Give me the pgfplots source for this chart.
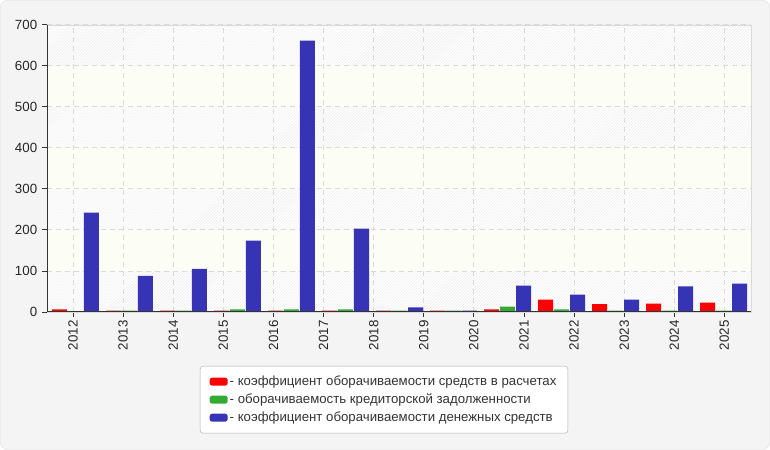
\documentclass[border=0pt]{standalone}
\usepackage{pgfplots}
\pgfplotsset{compat=1.18}
\usepackage{fontspec}
\setmainfont{Liberation Sans}
\usetikzlibrary{patterns}
\definecolor{cred}{RGB}{255,0,0}
\definecolor{cgreen}{RGB}{51,170,51}
\definecolor{cblue}{RGB}{54,52,180}
\definecolor{bgout}{RGB}{244,244,244}
\definecolor{cream}{RGB}{252,253,245}
\definecolor{gridc}{RGB}{218,218,218}
\definecolor{axc}{RGB}{51,51,51}
\definecolor{frame}{RGB}{222,222,222}
\definecolor{legframe}{RGB}{170,170,170}
\pgfdeclarelayer{farback}
\pgfplotsset{layers/mylayers/.define layer set={farback,axis background,axis grid,axis ticks,axis lines,axis tick labels,pre main,main,axis descriptions,axis foreground}{}}
\begin{document}
\begin{tikzpicture}
\begin{axis}[
  set layers=mylayers,
  at={(47.5pt,138pt)}, anchor=south west, scale only axis,
  width=703pt, height=287pt,
  xmin=-0.5204, xmax=12.502, ymin=0, ymax=700,
  axis line style={draw=gridc},
  xtick={-0.0426,0.8848,1.8122,2.7396,3.6670,4.5945,5.5219,6.4493,7.3767,8.3041,9.2315,10.1589,11.0863,12.0137},
  xticklabels={2012,2013,2014,2015,2016,2017,2018,2019,2020,2021,2022,2023,2024,2025},
  ytick={0,100,200,300,400,500,600,700},
  xtick pos=bottom, ytick pos=left,
  tick align=outside,
  major tick length=5pt,
  tick style={draw=axc, line width=0.8pt},
  grid=major,
  major grid style={draw=gridc, dash pattern=on 5pt off 4pt, line width=0.8pt},
  /pgf/number format/assume math mode=true,
  ticklabel style={font=\fontsize{13.3}{15}\selectfont, text=black!85},
  y tick label style={xshift=-1.5pt},
  x tick label style={rotate=90, anchor=east},
  ybar, bar width=15pt,
  legend style={at={(0.4787,-0.188)}, anchor=north, draw=legframe, fill=white, rounded corners=3pt, font=\fontsize{13.2}{15}\selectfont, text=black!80, inner xsep=9.5pt, inner ysep=6.5pt, row sep=0pt, column sep=0pt,
    nodes={text height=10pt, text depth=3pt, inner ysep=2.5pt, inner xsep=2pt}},
  legend cell align=left,
  legend image code/.code={\fill[#1, draw=none, rounded corners=2.5pt] (0pt,-4pt) rectangle (18pt,4pt);},
]
\addplot[fill=cred, draw=none, bar shift=-16pt] coordinates {
(0,6) (1,3) (2,3) (3,3) (4,3) (5,3) (6,3) (7,3) (8,6) (9,30) (10,19) (11,20) (12,23)};
\addlegendentry{- коэффициент оборачиваемости средств в расчетах}
\addplot[fill=cgreen, draw=none, bar shift=0pt] coordinates {
(0,2) (1,3) (2,3) (3,6) (4,6) (5,6) (6,3) (7,3) (8,13) (9,6) (10,3) (11,3) (12,3)};
\addlegendentry{- оборачиваемость кредиторской задолженности}
\addplot[fill=cblue, draw=none, bar shift=16pt] coordinates {
(0,242) (1,88) (2,105) (3,174) (4,661) (5,203) (6,11) (7,3) (8,64) (9,42) (10,30) (11,62) (12,69)};
\addlegendentry{- коэффициент оборачиваемости денежных средств}
\draw[axc, line width=0.9pt] (rel axis cs:0,1) -- (rel axis cs:0,0) -- (rel axis cs:1,0);
\end{axis}
\begin{pgfonlayer}{farback}
\fill[bgout, draw=frame, rounded corners=8pt] (0.5pt,0.5pt) rectangle (769.5pt,449.5pt);
\fill[white] (47.5pt,138pt) rectangle (750.5pt,425pt);
\fill[pattern=north east lines, pattern color=black!8] (47.5pt,138pt) rectangle (750.5pt,425pt);
\fill[cream] (47.5pt,179pt) rectangle (750.5pt,220pt);
\fill[cream] (47.5pt,261pt) rectangle (750.5pt,302pt);
\fill[cream] (47.5pt,343pt) rectangle (750.5pt,384pt);
\end{pgfonlayer}
\end{tikzpicture}
\end{document}
